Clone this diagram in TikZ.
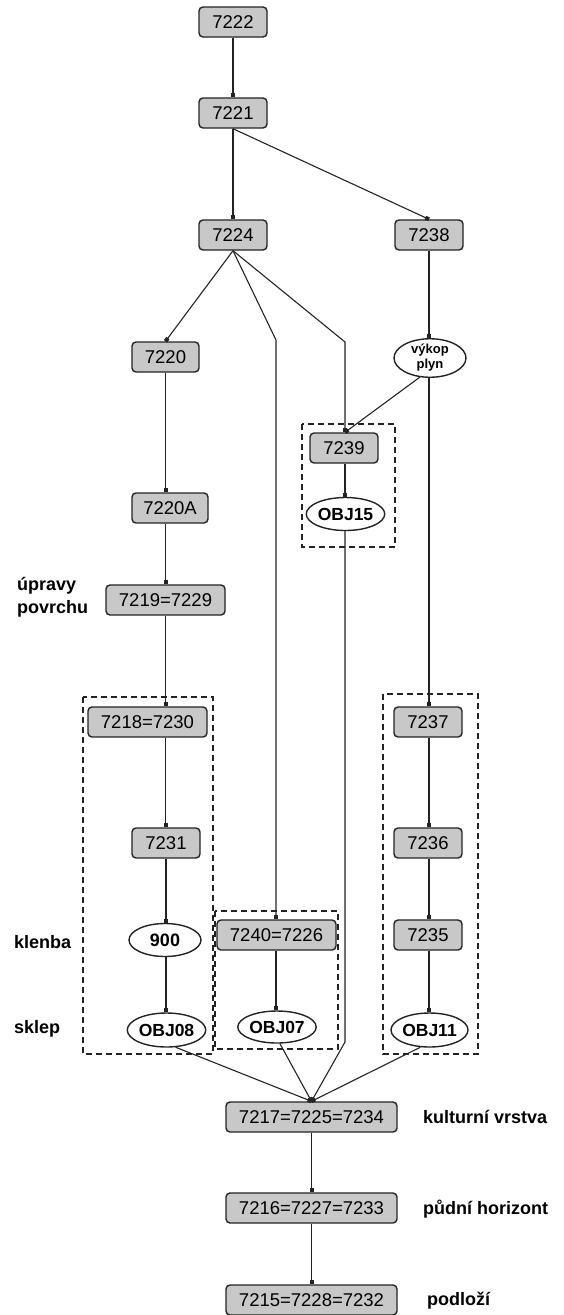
\documentclass[tikz,border=0pt]{standalone}
\usepackage{fontspec}
\setmainfont{Liberation Sans}
\usetikzlibrary{arrows.meta}
\definecolor{boxfill}{RGB}{200,200,200}
\definecolor{ink}{RGB}{35,35,35}
\tikzset{
  layer/.style={draw=ink, line width=1.4pt, fill=boxfill, rounded corners=4pt,
    minimum height=30pt, inner sep=0pt, font=\fontsize{18.5}{20}\selectfont},
  obj/.style={draw=ink, line width=1.4pt, fill=white, ellipse, minimum height=33pt,
    minimum width=73pt, inner sep=0pt, font=\bfseries\fontsize{17.5}{19}\selectfont},
  lbl/.style={anchor=west, inner sep=0pt, font=\bfseries\fontsize{18}{23}\selectfont, align=left},
  edge/.style={draw=ink, line width=1.1pt, -{Square[length=4pt,width=4pt]}},
  cluster/.style={draw=ink, line width=1.4pt, dash pattern=on 6pt off 4pt},
}
\usetikzlibrary{shapes.geometric}
\begin{document}
\begin{tikzpicture}[x=1pt,y=-1pt]
\useasboundingbox (0,0) rectangle (564,1315);
% clusters
\draw[cluster] (302,424) rectangle (395,547);
\draw[cluster] (83,697) rectangle (213,1054);
\draw[cluster] (215,911) rectangle (338,1049);
\draw[cluster] (383,694) rectangle (478,1054);
% nodes
\node[layer, minimum width=68pt] (n7222) at (233,22) {7222};
\node[layer, minimum width=68pt] (n7221) at (233,113) {7221};
\node[layer, minimum width=68pt] (n7224) at (233,235) {7224};
\node[layer, minimum width=68pt] (n7238) at (429,235) {7238};
\node[obj, minimum width=72pt, minimum height=32pt, font=\bfseries\fontsize{13}{15}\selectfont, align=center] (vyk) at (430,358) {výkop\\plyn};
\node[layer, minimum width=67pt] (n7220) at (165.5,357) {7220};
\node[layer, minimum width=76pt] (n7220A) at (170,508) {7220A};
\node[layer, minimum width=119pt] (n7219) at (165.5,600) {7219=7229};
\node[layer, minimum width=68pt] (n7239) at (344,448) {7239};
\node[obj] (obj15) at (345.5,514) {OBJ15};
\node[layer, minimum width=119pt] (n7218) at (147.5,722) {7218=7230};
\node[layer, minimum width=68pt] (n7231) at (166,843) {7231};
\node[obj, minimum width=72pt, font=\bfseries\fontsize{18}{20}\selectfont] (n900) at (165,940) {900};
\node[obj, minimum height=34pt] (obj08) at (166.5,1030) {OBJ08};
\node[layer, minimum width=119pt] (n7240) at (276.5,935) {7240=7226};
\node[obj, minimum height=32pt, minimum width=74pt] (obj07) at (277,1027) {OBJ07};
\node[layer, minimum width=68pt] (n7237) at (428,722) {7237};
\node[layer, minimum width=68pt] (n7236) at (428,843) {7236};
\node[layer, minimum width=68pt] (n7235) at (428,935) {7235};
\node[obj, minimum height=34pt, minimum width=75pt] (obj11) at (429.5,1030) {OBJ11};
\node[layer, minimum width=171pt] (n7217) at (311.5,1117) {7217=7225=7234};
\node[layer, minimum width=171pt] (n7216) at (311.5,1208) {7216=7227=7233};
\node[layer, minimum width=171pt] (n7215) at (311.5,1300) {7215=7228=7232};
% labels
\node[lbl] (l1) at (17,597) {úpravy\\povrchu};
\node[lbl] (l2) at (14,942) {klenba};
\node[lbl] (l3) at (14,1029) {sklep};
\node[lbl] (l4) at (423,1117) {kulturní vrstva};
\node[lbl] (l5) at (423,1209) {půdní horizont};
\node[lbl] (l6) at (427,1301) {podloží};
% bend coordinates
\coordinate (b40) at (276,340);
\coordinate (b39) at (345,342);
\coordinate (b15) at (345,1042);
% edges
\draw[edge] (n7222) -- (n7221);
\draw[edge] (n7221) -- (n7224);
\draw[edge] (n7221.south) -- (n7238.north);
\draw[edge] (n7224.south) -- (n7220.north);
\draw[edge] (n7224.south) -- (b40) -- (b40 |- n7240.north);
\draw[edge] (n7224.south) -- (b39) -- (b39 |- n7239.north);
\draw[edge] (n7238.south) -- (n7238.south |- vyk.north);
\draw[edge] (vyk.-118) -- (b39 |- n7239.north);
\draw[edge] (n7238.south |- vyk.south) -- (n7238.south |- n7237.north);
\draw[edge] (n7220.south) -- (n7220.south |- n7220A.north);
\draw[edge] (n7220.south |- n7220A.south) -- (n7220.south |- n7219.north);
\draw[edge] (n7220.south |- n7219.south) -- (n7220.south |- n7218.north);
\draw[edge] (n7220.south |- n7218.south) -- (n7220.south |- n7231.north);
\draw[edge] (n7231.south) -- (n7231.south |- n900.north);
\draw[edge] (n7231.south |- n900.south) -- (n7231.south |- obj08.north);
\draw[edge] (b39 |- n7239.south) -- (b39 |- obj15.north);
\draw[edge] (b40 |- n7240.south) -- (b40 |- obj07.north);
\draw[edge] (n7238.south |- n7237.south) -- (n7238.south |- n7236.north);
\draw[edge] (n7238.south |- n7236.south) -- (n7238.south |- n7235.north);
\draw[edge] (n7238.south |- n7235.south) -- (n7238.south |- obj11.north);
\draw[edge] (obj08.-62) -- (n7217.north);
\draw[edge] (obj07.-80) -- (n7217.north);
\draw[edge] (b39 |- obj15.south) -- (b15) -- (n7217.north);
\draw[edge] (obj11.-118) -- (n7217.north);
\draw[edge] (n7217) -- (n7216);
\draw[edge] (n7216) -- (n7215);
\end{tikzpicture}
\end{document}
